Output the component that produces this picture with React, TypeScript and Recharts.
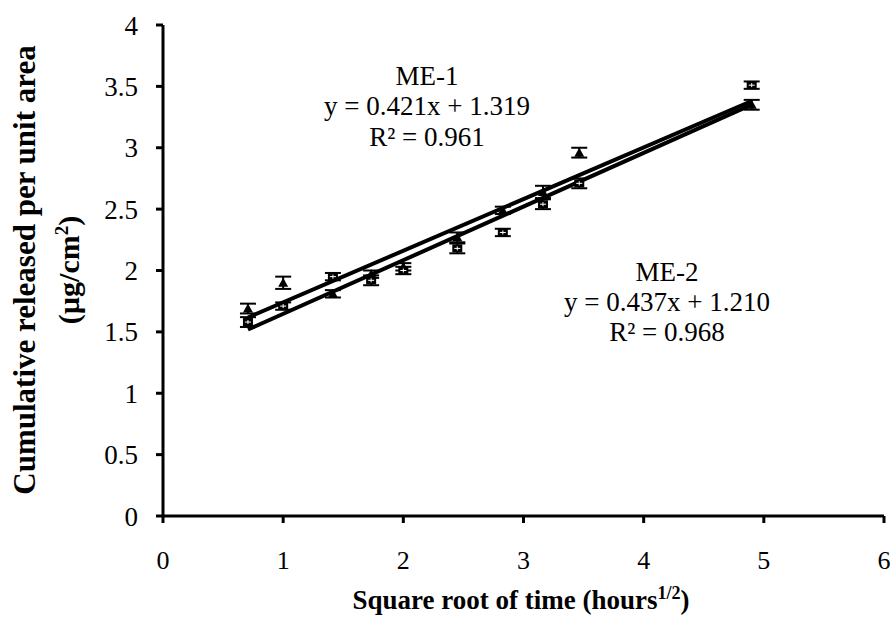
import {
  ScatterChart,
  Scatter,
  XAxis,
  YAxis,
  ErrorBar,
} from "recharts";

// sqrt(time) sampling points
const sqrtTime = [0.707, 1, 1.414, 1.732, 2, 2.449, 2.828, 3.162, 3.464, 4.899];

const me1Values = [1.69, 1.9, 1.81, 1.97, 2.03, 2.27, 2.49, 2.64, 2.96, 3.35];
const me1Err = [0.04, 0.05, 0.03, 0.03, 0.03, 0.04, 0.03, 0.05, 0.04, 0.04];

const me2Values = [1.58, 1.71, 1.95, 1.92, 2.0, 2.18, 2.31, 2.54, 2.71, 3.51];
const me2Err = [0.04, 0.03, 0.03, 0.04, 0.03, 0.04, 0.03, 0.04, 0.04, 0.03];

// trendline end points (Excel linear fits)
const trendX = [0.707, 4.899];
const me1Trend = [1.617, 3.381];
const me2Trend = [1.519, 3.351];

const xTicks = [0, 1, 2, 3, 4, 5, 6];
const yTicks = [0, 0.5, 1, 1.5, 2, 2.5, 3, 3.5, 4];

const me1Data = sqrtTime.map((x, i) => ({ x, y: me1Values[i], err: me1Err[i] }));
const me2Data = sqrtTime.map((x, i) => ({ x, y: me2Values[i], err: me2Err[i] }));
const me1Line = trendX.map((x, i) => ({ x, y: me1Trend[i] }));
const me2Line = trendX.map((x, i) => ({ x, y: me2Trend[i] }));

const font = "'Liberation Serif', 'Times New Roman', serif";

const Triangle = (props: any) => {
  const { cx, cy } = props;
  if (cx == null || cy == null) return null;
  return (
    <path
      d={`M${cx},${cy - 5} L${cx + 5},${cy + 4} L${cx - 5},${cy + 4} Z`}
      fill="#000"
    />
  );
};

const Square = (props: any) => {
  const { cx, cy } = props;
  if (cx == null || cy == null) return null;
  return (
    <g>
      <rect x={cx - 5} y={cy - 4} width={10} height={8} fill="#000" />
      <line x1={cx - 3} y1={cy} x2={cx + 3} y2={cy} stroke="#fff" strokeWidth={1} />
      <line x1={cx} y1={cy - 2} x2={cx} y2={cy + 2} stroke="#fff" strokeWidth={1} />
    </g>
  );
};

const NoDot = () => null;

const App = () => {
  return (
    <div style={{ position: "absolute", left: 0, top: 0, width: 891, height: 617, background: "#fff" }}>
      <ScatterChart
        width={891}
        height={617}
        margin={{ top: 25, right: 7, left: 103, bottom: 71 }}
      >
        <XAxis
          type="number"
          dataKey="x"
          domain={[0, 6]}
          ticks={xTicks}
          height={30}
          stroke="#000"
          strokeWidth={3}
          tickSize={7}
          tickMargin={28}
          tick={{ fill: "#000", fontSize: 26, fontFamily: font }}
          allowDataOverflow
        />
        <YAxis
          type="number"
          dataKey="y"
          domain={[0, 4]}
          ticks={yTicks}
          width={60}
          stroke="#000"
          strokeWidth={3}
          tickSize={7}
          tickMargin={18}
          tick={{ fill: "#000", fontSize: 27, fontFamily: font }}
          allowDataOverflow
        />
        <Scatter
          data={me1Line}
          line={{ stroke: "#000", strokeWidth: 4 }}
          shape={NoDot}
          isAnimationActive={false}
        />
        <Scatter
          data={me2Line}
          line={{ stroke: "#000", strokeWidth: 4 }}
          shape={NoDot}
          isAnimationActive={false}
        />
        <Scatter data={me1Data} shape={Triangle} isAnimationActive={false}>
          <ErrorBar dataKey="err" direction="y" width={8} stroke="#000" strokeWidth={2} />
        </Scatter>
        <Scatter data={me2Data} shape={Square} isAnimationActive={false}>
          <ErrorBar dataKey="err" direction="y" width={8} stroke="#000" strokeWidth={2} />
        </Scatter>
      </ScatterChart>
      <svg
        width={891}
        height={617}
        style={{ position: "absolute", left: 0, top: 0, pointerEvents: "none" }}
        fontFamily={font}
      >
        <g fontSize={27} textAnchor="middle" fill="#000">
          <text x={427} y={85}>ME-1</text>
          <text x={427} y={115}>y = 0.421x + 1.319</text>
          <text x={427} y={146}>R² = 0.961</text>
          <text x={667} y={281}>ME-2</text>
          <text x={667} y={311}>y = 0.437x + 1.210</text>
          <text x={667} y={341}>R² = 0.968</text>
        </g>
        <g fontWeight="bold" fill="#000" textAnchor="middle">
          <text transform="translate(35,270) rotate(-90)" fontSize={31}>
            Cumulative released per unit area
          </text>
          <text transform="translate(79,270) rotate(-90)" fontSize={30}>
            (µg/cm<tspan dy={-11} fontSize={19}>2</tspan>
            <tspan dy={11}>)</tspan>
          </text>
          <text x={521} y={609} fontSize={27}>
            Square root of time (hours<tspan dy={-10} fontSize={18}>1/2</tspan>
            <tspan dy={10}>)</tspan>
          </text>
        </g>
      </svg>
    </div>
  );
};

export default App;
